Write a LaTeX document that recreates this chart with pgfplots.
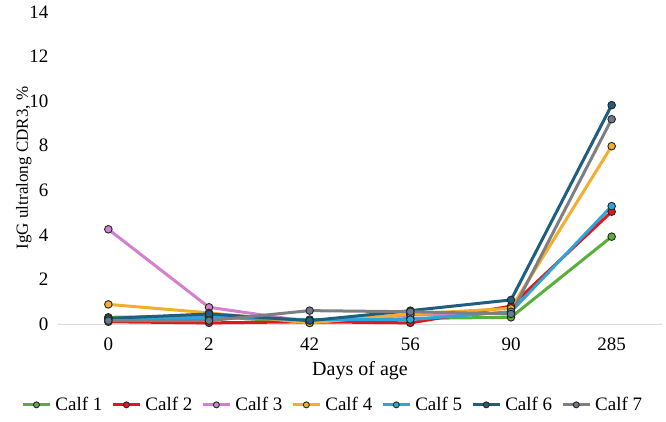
\documentclass[border=0pt]{standalone}
\usepackage{fontspec}
\setmainfont{Liberation Serif}
\usepackage{pgfplots}
\pgfplotsset{compat=1.18}

\definecolor{cgreen}{HTML}{5AAE3C}
\definecolor{cred}{HTML}{E3161C}
\definecolor{cpink}{HTML}{D47FCF}
\definecolor{cyellow}{HTML}{F4AE2C}
\definecolor{cblue}{HTML}{2CA6DA}
\definecolor{cteal}{HTML}{1E5E7E}
\definecolor{cgray}{HTML}{7F7F7F}
\definecolor{cgraymark}{HTML}{6C7891}

\pgfplotsset{
  calf/.style={#1, mark=*, mark options={draw=black!85, fill=#1, line width=0.9pt}},
}

\begin{document}
\begin{tikzpicture}[x=1pt,y=1pt]
\path[use as bounding box] (0,0) rectangle (666,421);
\begin{axis}[
  at={(58pt,97pt)}, anchor=south west,
  scale only axis, width=604pt, height=312pt,
  xmin=-0.5, xmax=5.5, ymin=0, ymax=14,
  xtick={0,1,2,3,4,5},
  xticklabels={0,2,42,56,90,285},
  ytick={0,2,...,14},
  axis line style={draw=none},
  tick style={draw=none},
  /pgf/number format/assume math mode=true,
  ticklabel style={font=\fontsize{19}{21}\selectfont},
  xticklabel style={yshift=-10pt},
  yticklabel style={xshift=-6pt},
  xlabel={Days of age},
  ylabel={IgG ultralong CDR3, \%},
  xlabel style={font=\fontsize{20}{22}\selectfont, yshift=-4pt},
  ylabel style={font=\fontsize{17}{20}\selectfont, yshift=-9pt},
  every axis plot/.append style={line width=3pt, mark size=3.8pt},
  legend columns=7,
  legend style={draw=none, fill=none, font=\fontsize{19}{20}\selectfont,
    at={(0.455,-0.225)}, anchor=north, inner sep=1pt,
    /tikz/every odd column/.append style={column sep=2pt},
    /tikz/every even column/.append style={column sep=7pt}},
  legend image code/.code={
    \draw[#1, mark=none] (0pt,0pt) -- (27pt,0pt);
    \draw[#1, only marks, mark size=3pt] plot coordinates {(13.5pt,0pt)};
  },
  clip=false,
]
\draw[black!15, line width=0.8pt] (axis cs:-0.5,0) -- (axis cs:5.5,0);

% Calf 1
\addplot[calf=cgreen] coordinates
  {(0,0.30) (1,0.35) (2,0.05) (3,0.25) (4,0.30) (5,3.92)};
% Calf 2
\addplot[calf=cred] coordinates
  {(0,0.10) (1,0.05) (2,0.10) (3,0.05) (4,0.80) (5,5.04)};
% Calf 3
\addplot[calf=cpink] coordinates
  {(0,4.25) (1,0.75) (2,0.10) (3,0.40) (4,0.50)};
% Calf 4
\addplot[calf=cyellow] coordinates
  {(0,0.88) (1,0.50) (2,0.05) (3,0.45) (4,0.70) (5,7.98)};
% Calf 5
\addplot[calf=cblue] coordinates
  {(0,0.20) (1,0.30) (2,0.20) (3,0.20) (4,0.55) (5,5.29)};
% Calf 6
\addplot[calf=cteal] coordinates
  {(0,0.25) (1,0.45) (2,0.15) (3,0.60) (4,1.08) (5,9.82)};
% Calf 7
\addplot[cgray, mark=*, mark options={draw=black!85, fill=cgraymark, line width=0.9pt}] coordinates
  {(0,0.15) (1,0.15) (2,0.60) (3,0.55) (4,0.45) (5,9.19)};

\legend{Calf 1, Calf 2, Calf 3, Calf 4, Calf 5, Calf 6, Calf 7}
\end{axis}
\end{tikzpicture}
\end{document}
